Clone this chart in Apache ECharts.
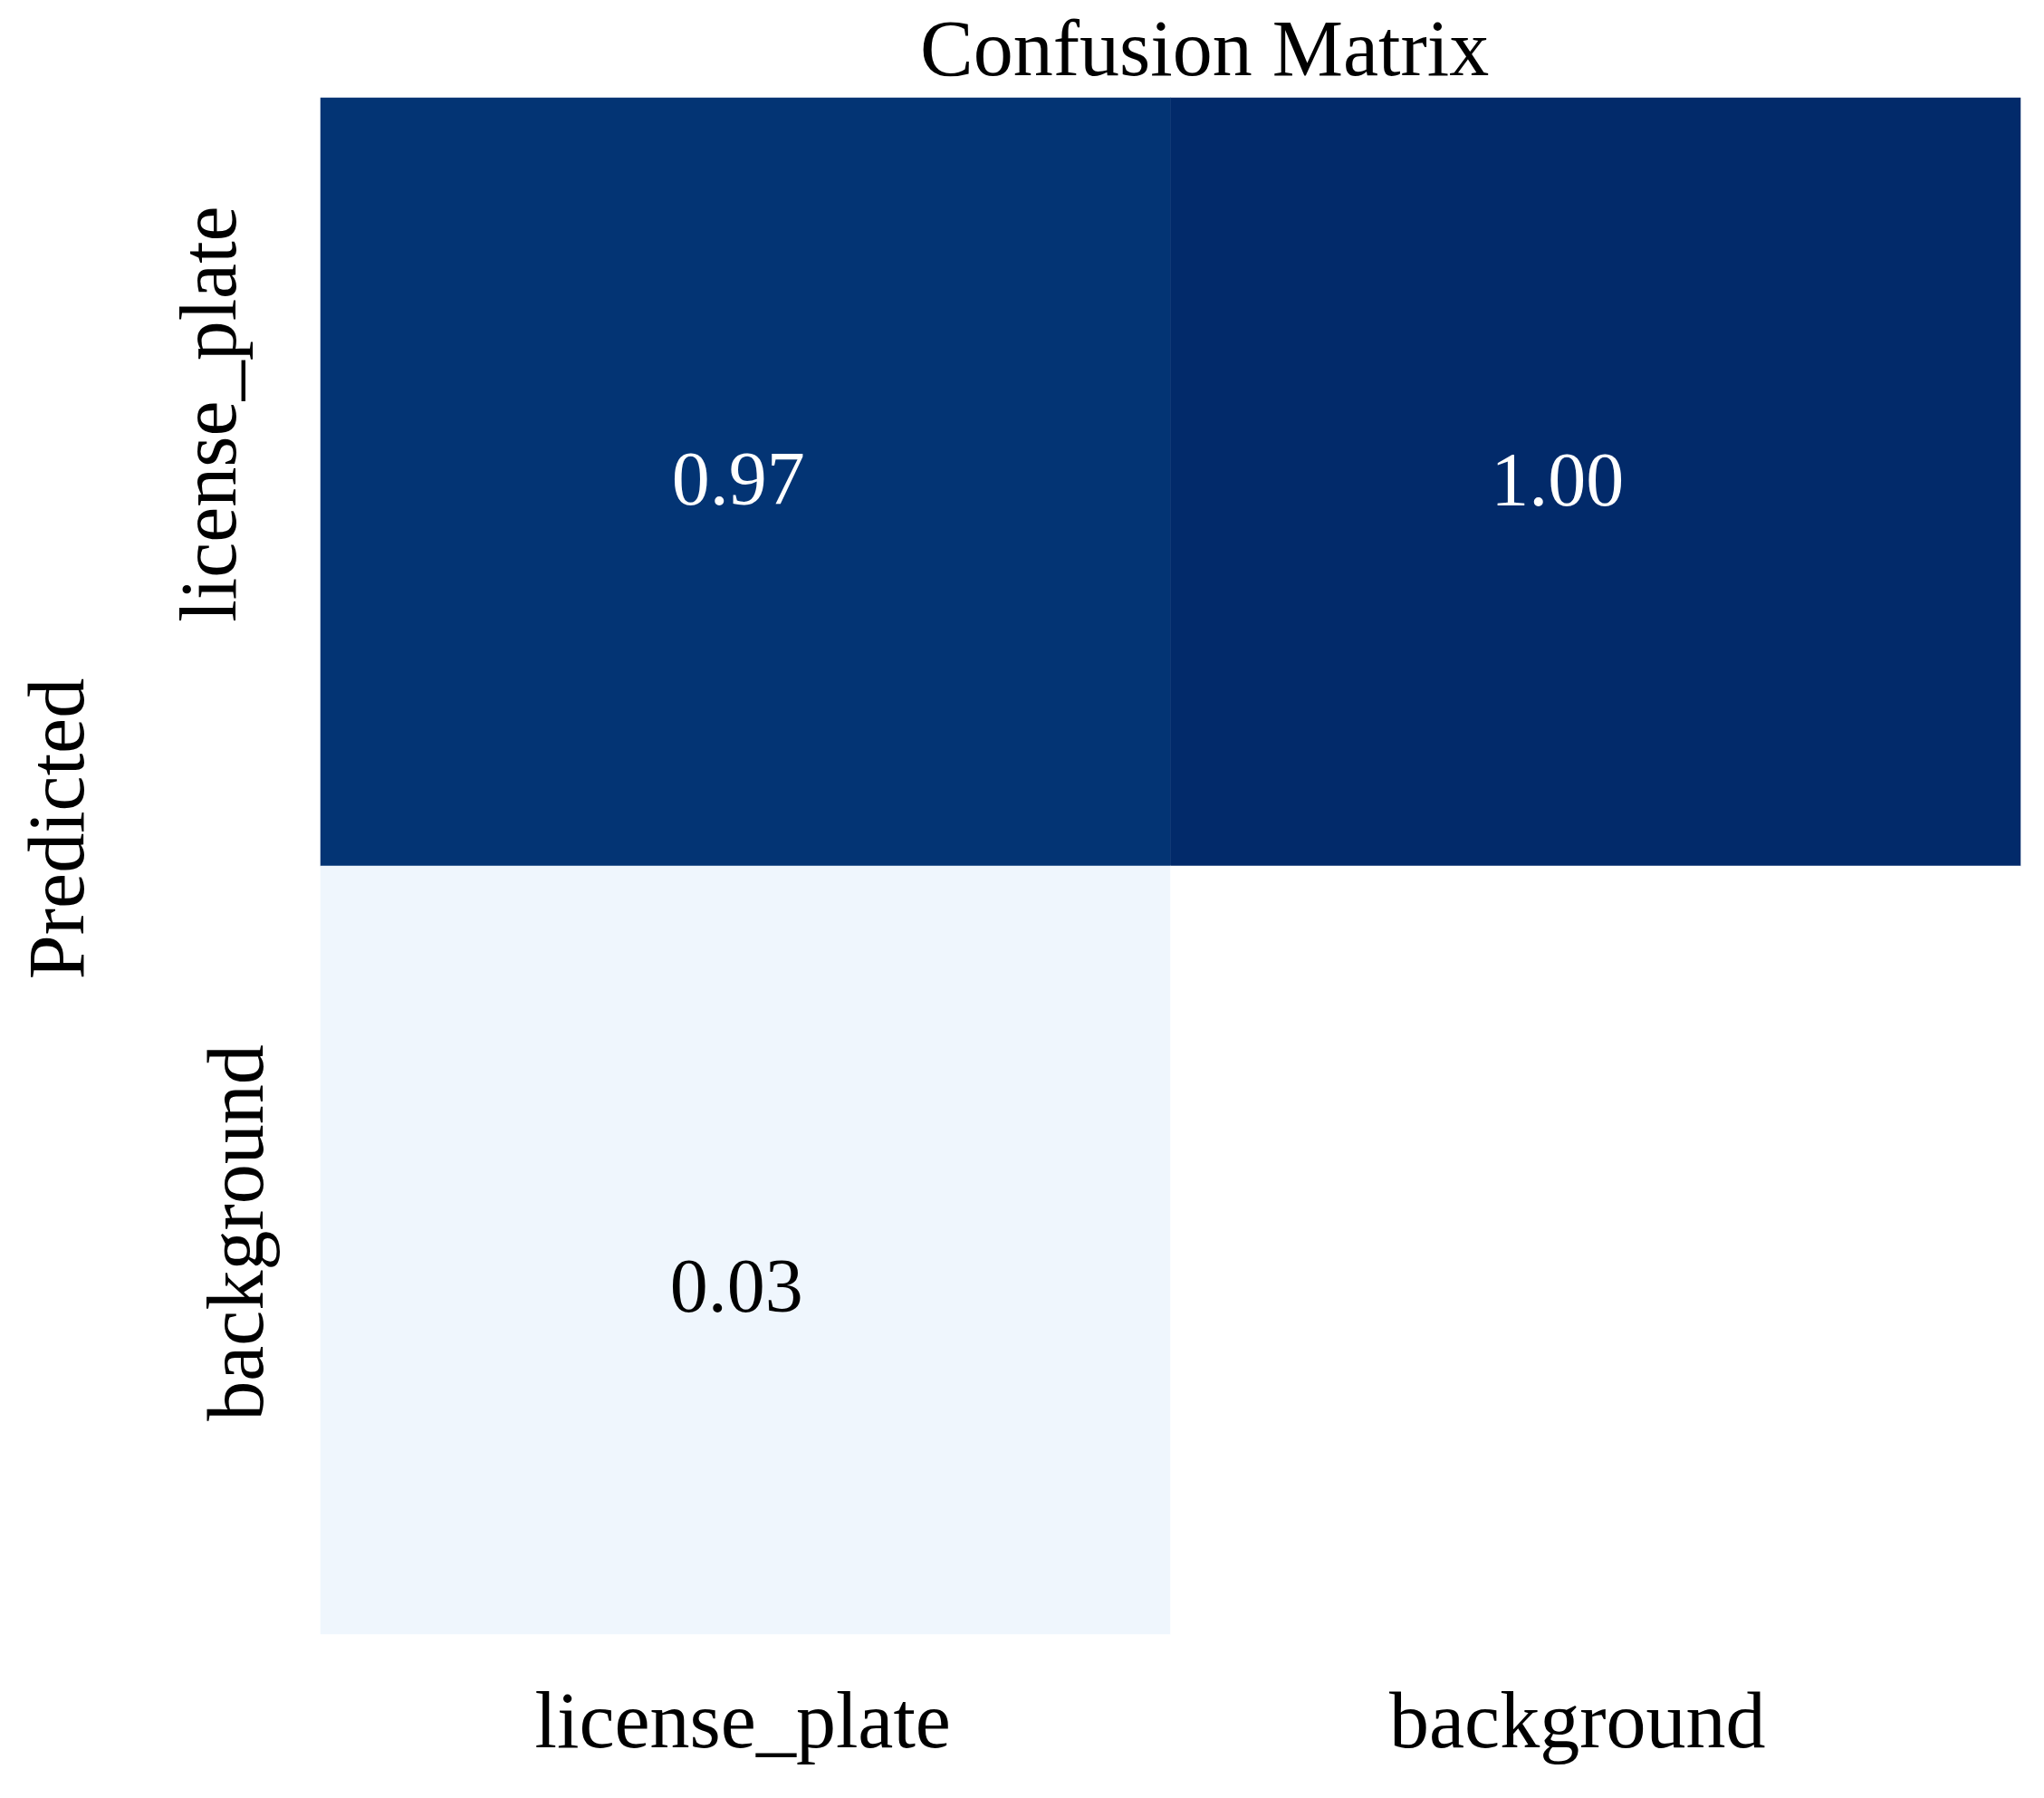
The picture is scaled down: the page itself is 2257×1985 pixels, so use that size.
<!DOCTYPE html>
<html>
<head>
<meta charset="utf-8">
<script src="https://cdn.jsdelivr.net/npm/echarts@6/dist/echarts.min.js"></script>
<style>
  html, body { margin: 0; padding: 0; background: #fff; }
  #chart { width: 2257px; height: 1985px; }
</style>
</head>
<body>
<div id="chart"></div>
<script>
// columns (true class) and rows (predicted class)
const trueLabels = ['license_plate', 'background']
const predLabels = ['license_plate', 'background']
// normalised matrix, row = predicted, col = true
const matrixRows = [
  [0.97, 1.00],
  [0.03, 0.00]
]

const serif = 'Liberation Serif'

// small nudges so the numbers sit where the reference has them
const labelNudge = [
  [[-8, 3], [-42, 4]],
  [[-10, 46], [0, 0]]
]

const cells = []
matrixRows.forEach(function (row, r) {
  row.forEach(function (v, c) {
    cells.push({
      value: [c, r, v],
      label: {
        color: v > 0.5 ? '#ffffff' : '#000000',
        offset: labelNudge[r][c]
      }
    })
  })
})

const chart = echarts.init(document.getElementById('chart'))
chart.setOption({
  backgroundColor: '#ffffff',
  animation: false,
  title: {
    text: 'Confusion Matrix',
    left: 1016,
    top: 16,
    padding: 0,
    textStyle: { fontFamily: serif, fontSize: 88, fontWeight: 'normal', color: '#000' }
  },
  grid: { left: 354, right: 26, top: 108, bottom: 181 },
  xAxis: {
    type: 'category',
    data: trueLabels,
    axisLine: { show: false },
    axisTick: { show: false },
    splitLine: { show: false },
    axisLabel: {
      margin: 58,
      fontFamily: serif,
      fontSize: 88,
      color: '#000',
      formatter: function (v, i) { return '{x' + i + '|' + v + '}' },
      rich: {
        x0: { fontFamily: serif, fontSize: 88, padding: [0, 6, 0, 0] },
        x1: { fontFamily: serif, fontSize: 88, padding: [0, 40, 0, 0] }
      }
    }
  },
  yAxis: {
    type: 'category',
    data: predLabels,
    inverse: true,
    name: 'Predicted',
    nameLocation: 'middle',
    nameGap: 241,
    nameTextStyle: { fontFamily: serif, fontSize: 88, color: '#000', padding: [0, 0, 0, 82] },
    axisLine: { show: false },
    axisTick: { show: false },
    splitLine: { show: false },
    axisLabel: {
      rotate: 90,
      margin: 43,
      fontFamily: serif,
      fontSize: 88,
      color: '#000',
      formatter: function (v, i) { return '{y' + i + '|' + v + '}' },
      rich: {
        y0: { fontFamily: serif, fontSize: 88, padding: [0, 0, 30, 150] },
        y1: { fontFamily: serif, fontSize: 88, padding: [0, 0, 0, 38] }
      }
    }
  },
  visualMap: {
    show: false,
    type: 'piecewise',
    dimension: 2,
    pieces: [
      { lt: 0.01, color: '#ffffff' },
      { gte: 0.01, lt: 0.5, color: '#eff6fd' },
      { gte: 0.5, lt: 0.985, color: '#033474' },
      { gte: 0.985, color: '#022a6a' }
    ]
  },
  series: [{
    type: 'heatmap',
    data: cells,
    label: {
      show: true,
      fontFamily: serif,
      fontSize: 84,
      formatter: function (p) {
        return p.value[2] === 0 ? '' : p.value[2].toFixed(2)
      }
    },
    emphasis: { disabled: true }
  }]
})
</script>
</body>
</html>
